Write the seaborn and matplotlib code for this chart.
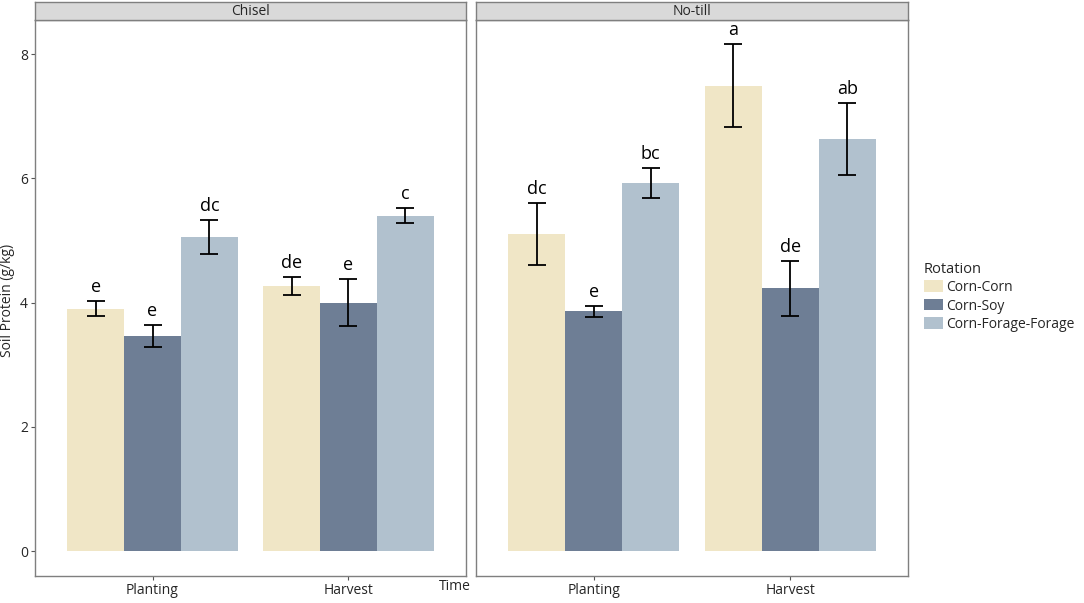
import matplotlib
matplotlib.use("Agg")
import matplotlib.pyplot as plt
import seaborn as sns
import pandas as pd
from matplotlib.patches import Patch

sns.set_style("white")
plt.rcParams['font.family'] = ['Open Sans', 'DejaVu Sans']

tillage = ["Chisel", "No-till"]
times = ["Planting", "Harvest"]
rotations = ["Corn-Corn", "Corn-Soy", "Corn-Forage-Forage"]
colors = ["#f0e6c6", "#6e7e95", "#b1c1ce"]

# values[tillage][rotation] = [Planting, Harvest]
means = {
    "Chisel": {"Corn-Corn": [3.90, 4.27], "Corn-Soy": [3.46, 4.00], "Corn-Forage-Forage": [5.06, 5.40]},
    "No-till": {"Corn-Corn": [5.10, 7.49], "Corn-Soy": [3.86, 4.23], "Corn-Forage-Forage": [5.93, 6.63]},
}
errs = {
    "Chisel": {"Corn-Corn": [0.12, 0.15], "Corn-Soy": [0.18, 0.38], "Corn-Forage-Forage": [0.27, 0.12]},
    "No-till": {"Corn-Corn": [0.50, 0.67], "Corn-Soy": [0.09, 0.44], "Corn-Forage-Forage": [0.24, 0.58]},
}
letters = {
    "Chisel": {"Corn-Corn": ["e", "de"], "Corn-Soy": ["e", "e"], "Corn-Forage-Forage": ["dc", "c"]},
    "No-till": {"Corn-Corn": ["dc", "a"], "Corn-Soy": ["e", "de"], "Corn-Forage-Forage": ["bc", "ab"]},
}

rows = []
for t in tillage:
    for r in rotations:
        for i, tm in enumerate(times):
            rows.append(dict(Tillage=t, Rotation=r, Time=tm, Protein=means[t][r][i],
                             SE=errs[t][r][i], Letter=letters[t][r][i]))
df = pd.DataFrame(rows)

fig = plt.figure(figsize=(10.84, 6.03), dpi=100)
W, H = 1084, 603
panels = [(35, 466), (476, 908)]
ytop, ybot = 20, 576
border = "#7f7f7f"

for k, t in enumerate(tillage):
    x0, x1 = panels[k]
    ax = fig.add_axes([x0 / W, 1 - ybot / H, (x1 - x0) / W, (ybot - ytop) / H])
    sub = df[df.Tillage == t]
    sns.barplot(data=sub, x="Time", y="Protein", hue="Rotation", order=times,
                hue_order=rotations, palette=colors, errorbar=None, width=0.87,
                saturation=1, legend=False, ax=ax, linewidth=0)
    # error bars and letters using bar positions
    patches = ax.patches
    idx = 0
    for r in rotations:
        for tm in times:
            p = patches[idx]
            idx += 1
            row = sub[(sub.Rotation == r) & (sub.Time == tm)].iloc[0]
            xc = p.get_x() + p.get_width() / 2
            ax.errorbar(xc, row.Protein, yerr=row.SE, color="black", lw=1.3,
                        capsize=6.5, capthick=1.3, zorder=5)
            ax.text(xc, row.Protein + row.SE + 0.08, row.Letter, ha="center",
                    va="bottom", fontsize=13, color="black")
    ax.set_xlim(-0.6, 1.6)
    ax.set_ylim(-0.4, 8.55)
    ax.set_yticks([0, 2, 4, 6, 8])
    ax.set_xlabel("")
    ax.set_ylabel("")
    for s in ax.spines.values():
        s.set_visible(True)
        s.set_color(border)
        s.set_linewidth(1.0)
    ax.tick_params(axis="both", which="both", length=3, width=0.8, color="#555555",
                   labelsize=10, direction="out", left=True, bottom=True, pad=2)
    if k == 1:
        ax.set_yticklabels([])
        ax.tick_params(axis="y", left=False)
    # strip
    sax = fig.add_axes([x0 / W, 1 - ytop / H, (x1 - x0) / W, 18 / H])
    sax.set_facecolor("#d9d9d9")
    sax.set_xticks([])
    sax.set_yticks([])
    for s in sax.spines.values():
        s.set_color(border)
        s.set_linewidth(1.0)
    sax.text(0.5, 0.45, t, ha="center", va="center", fontsize=10, transform=sax.transAxes)

fig.text(455 / W, 1 - 586 / H, "Time", ha="center", va="center", fontsize=10)
fig.text(8 / W, 1 - 300 / H, "Soil Protein (g/kg)", ha="center", va="center",
         rotation=90, fontsize=10)

handles = [Patch(facecolor=c, edgecolor="none", label=r) for c, r in zip(colors, rotations)]
fig.legend(handles=handles, title="Rotation", loc="upper left",
           bbox_to_anchor=(918 / W, 1 - 256 / H), frameon=False, fontsize=10,
           title_fontsize=10.5, handlelength=1.4, handleheight=0.9,
           handletextpad=0.2, labelspacing=0.25, alignment="left", borderaxespad=0)

fig.savefig("out.png", dpi=100)
